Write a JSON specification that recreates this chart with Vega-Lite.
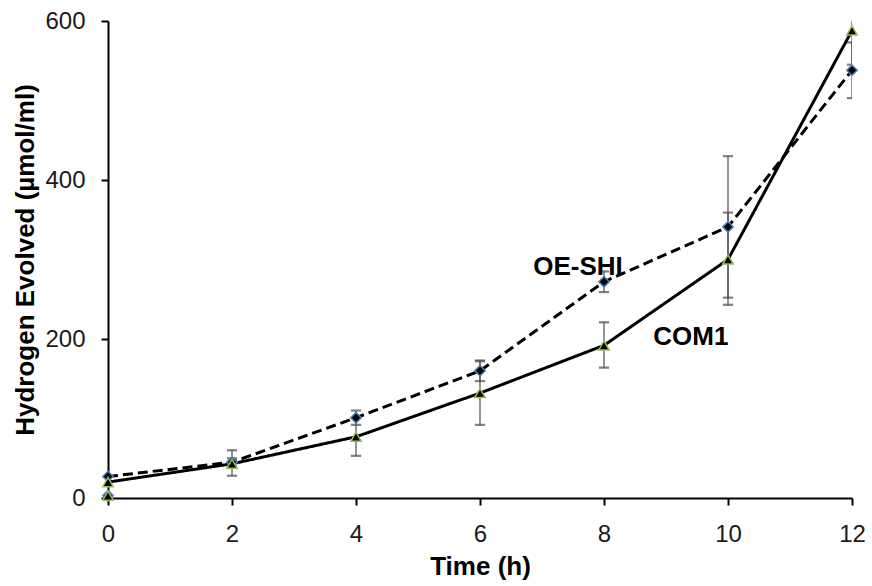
{
  "$schema": "https://vega.github.io/schema/vega-lite/v6.json",
  "width": 744,
  "height": 477,
  "autosize": "none",
  "padding": {"left": 108, "top": 21, "right": 20, "bottom": 88},
  "background": "white",
  "config": {
    "view": {"stroke": null},
    "font": "Liberation Sans",
    "axis": {
      "grid": false,
      "domainColor": "black",
      "domainWidth": 2,
      "tickColor": "black",
      "tickWidth": 2,
      "tickSize": 7,
      "labelFont": "Liberation Sans",
      "labelFontSize": 24,
      "labelColor": "#1a1a1a",
      "titleFont": "Liberation Sans",
      "titleFontSize": 26,
      "titleFontWeight": "bold",
      "titleColor": "black"
    }
  },
  "datasets": {
    "pts": [
      {"series": "OE-SHI", "time": 0, "value": 27, "lo": 24, "hi": 30, "line": true},
      {"series": "OE-SHI", "time": 2, "value": 45, "lo": 40, "hi": 50, "line": true},
      {"series": "OE-SHI", "time": 4, "value": 101, "lo": 92, "hi": 110, "line": true},
      {"series": "OE-SHI", "time": 6, "value": 160, "lo": 147, "hi": 173, "line": true},
      {"series": "OE-SHI", "time": 8, "value": 272, "lo": 259, "hi": 285, "line": true},
      {"series": "OE-SHI", "time": 10, "value": 341, "lo": 252, "hi": 430, "line": true},
      {"series": "OE-SHI", "time": 12, "value": 538, "lo": 503, "hi": 573, "line": true},
      {"series": "COM1", "time": 0, "value": 20, "lo": 17, "hi": 23, "line": true},
      {"series": "COM1", "time": 2, "value": 43, "lo": 28, "hi": 60, "line": true},
      {"series": "COM1", "time": 4, "value": 77, "lo": 53, "hi": 101, "line": true},
      {"series": "COM1", "time": 6, "value": 132, "lo": 92, "hi": 172, "line": true},
      {"series": "COM1", "time": 8, "value": 192, "lo": 164, "hi": 221, "line": true},
      {"series": "COM1", "time": 10, "value": 300, "lo": 243, "hi": 359, "line": true},
      {"series": "COM1", "time": 12, "value": 588, "lo": 545, "hi": 631, "line": true},
      {"series": "OE-SHI", "time": 0, "value": 3, "lo": 3, "hi": 3, "line": false},
      {"series": "COM1", "time": 0, "value": 3, "lo": 3, "hi": 3, "line": false}
    ],
    "labels": [
      {"label": "OE-SHI", "time": 7.58, "value": 290},
      {"label": "COM1", "time": 9.4, "value": 203}
    ]
  },
  "layer": [
    {
      "data": {"name": "pts"},
      "transform": [{"filter": "datum.line && datum.hi - datum.lo > 8"}],
      "mark": {"type": "errorbar", "clip": true, "rule": {"stroke": "#4d4d4d", "strokeWidth": 1.2}, "ticks": {"stroke": "#4d4d4d", "strokeWidth": 1.2, "size": 9}},
      "encoding": {
        "x": {"field": "time", "type": "quantitative", "scale": {"domain": [0, 12], "nice": false},
          "axis": {"values": [0, 2, 4, 6, 8, 10, 12], "format": "d", "title": "Time (h)", "labelPadding": 17, "titlePadding": 7, "labelFlush": false}},
        "y": {"field": "lo", "type": "quantitative", "scale": {"domain": [0, 600], "nice": false},
          "axis": {"values": [0, 200, 400, 600], "format": "d", "title": "Hydrogen Evolved (µmol/ml)", "labelPadding": 16, "titlePadding": 6}},
        "y2": {"field": "hi"}
      }
    },
    {
      "data": {"name": "pts"},
      "transform": [{"filter": "datum.line"}],
      "mark": {"type": "line", "strokeWidth": 3, "color": "black"},
      "encoding": {
        "x": {"field": "time", "type": "quantitative"},
        "y": {"field": "value", "type": "quantitative"},
        "detail": {"field": "series"},
        "strokeDash": {"field": "series", "type": "nominal", "scale": {"domain": ["OE-SHI", "COM1"], "range": [[10, 5], [1, 0]]}, "legend": null}
      }
    },
    {
      "data": {"name": "pts"},
      "mark": {"type": "point", "filled": false, "fill": "black", "fillOpacity": 1, "strokeWidth": 1.5, "size": 110, "opacity": 1},
      "encoding": {
        "x": {"field": "time", "type": "quantitative"},
        "y": {"field": "value", "type": "quantitative"},
        "shape": {"field": "series", "type": "nominal", "scale": {"domain": ["OE-SHI", "COM1"], "range": ["diamond", "triangle-up"]}, "legend": null},
        "stroke": {"field": "series", "type": "nominal", "scale": {"domain": ["OE-SHI", "COM1"], "range": ["#4F81BD", "#9BBB59"]}, "legend": null}
      }
    },
    {
      "data": {"name": "labels"},
      "mark": {"type": "text", "font": "Liberation Sans", "fontSize": 26, "fontWeight": "bold", "color": "black", "align": "center", "baseline": "middle"},
      "encoding": {
        "x": {"field": "time", "type": "quantitative"},
        "y": {"field": "value", "type": "quantitative"},
        "text": {"field": "label"}
      }
    }
  ]
}
